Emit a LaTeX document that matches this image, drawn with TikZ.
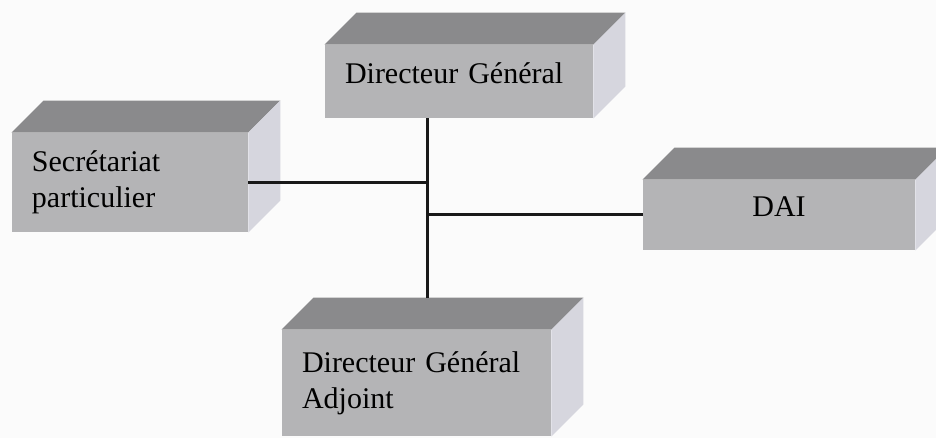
\documentclass[tikz,border=0pt]{standalone}
\usepackage{fontspec}
\setmainfont{Liberation Serif}
\definecolor{face}{RGB}{180,180,182}
\definecolor{dessus}{RGB}{138,138,140}
\definecolor{cote}{RGB}{214,214,222}
\definecolor{fond}{RGB}{251,251,251}
\begin{document}
\begin{tikzpicture}[x=0.5pt, y=0.5pt,
  bloc/.style={rectangle, fill=face, inner xsep=10pt, inner ysep=0pt, align=left, font=\fontsize{15}{18}\selectfont},
  lien/.style={draw=black!90, line width=1.5pt}]
  \fill[fond] (0,0) rectangle (936,438);
  \useasboundingbox (0,0) rectangle (936,438);
  \node[bloc, minimum height=36.5pt, text width=114pt, text depth=8pt] (dg) at (459,356.5) {Directeur Général};
  \node[bloc, minimum height=49.5pt, text width=98pt] (secr) at (130,255.5) {Secrétariat\\particulier};
  \node[bloc, minimum height=35pt, text width=116pt, text depth=8pt, align=center] (dai) at (779,223) {DAI};
  \node[bloc, minimum height=53pt, text width=114.5pt] (dga) at (416.5,55) {Directeur Général\\Adjoint};
  \foreach \n in {dg,secr,dai,dga} {
    \fill[dessus] (\n.north west) -- ++(32,32) -- ([shift={(32,32)}]\n.north east) -- (\n.north east) -- cycle;
    \fill[cote] (\n.north east) -- ++(32,32) -- ([shift={(32,32)}]\n.south east) -- (\n.south east) -- cycle;
  }
  \coordinate (axe) at (427,0);
  \coordinate (dgaback) at ([yshift=16pt]dga.north);
  \draw[lien] (dg.south -| axe) -- (dgaback -| axe);
  \draw[lien] (secr.east) -- (secr.east -| axe);
  \draw[lien] (dai.west) -- (dai.west -| axe);
\end{tikzpicture}
\end{document}
